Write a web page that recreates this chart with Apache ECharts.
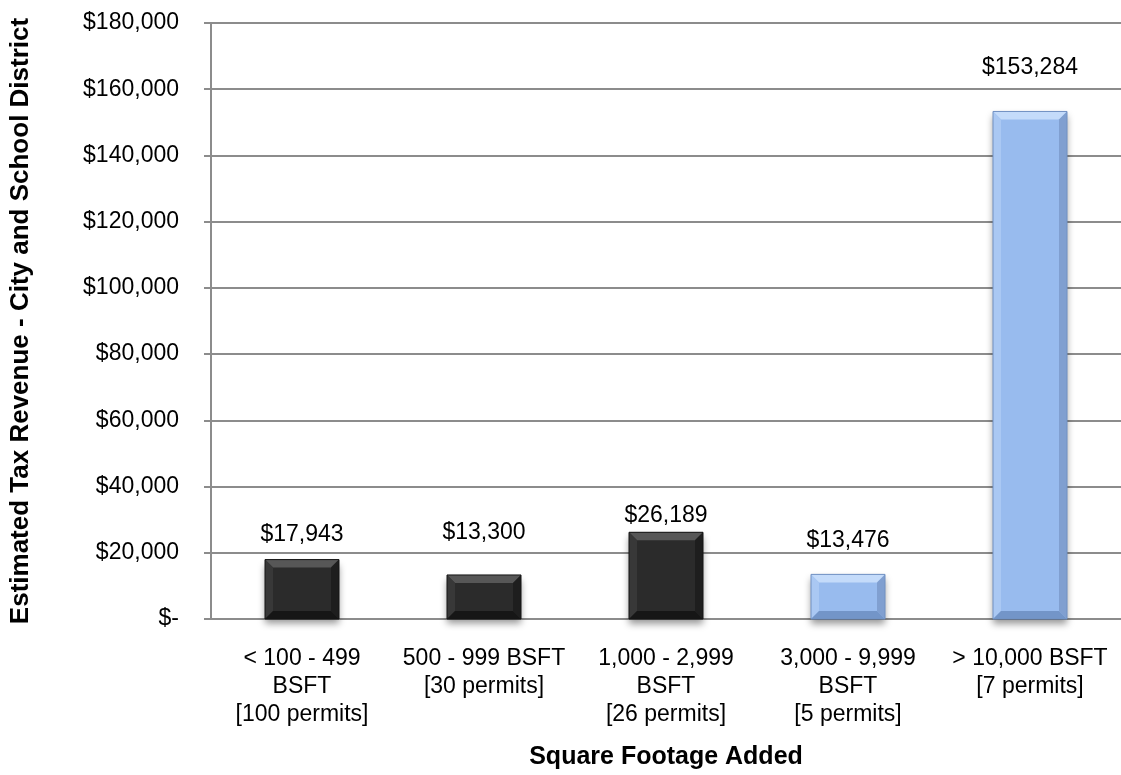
<!DOCTYPE html>
<html>
<head>
<meta charset="utf-8">
<script src="https://cdn.jsdelivr.net/npm/echarts@6/dist/echarts.min.js"></script>
<style>
    html, body {margin: 0; padding: 0; background: #fff;}
    #chart {width: 1121px; height: 775px;}
</style>
</head>
<body>
<div id="chart"></div>
<script>
// 数据
var categories = [
    '< 100 - 499\nBSFT\n[100 permits]',
    '500 - 999 BSFT\n[30 permits]',
    '1,000 - 2,999\nBSFT\n[26 permits]',
    '3,000 - 9,999\nBSFT\n[5 permits]',
    '> 10,000 BSFT\n[7 permits]'
];
var revenue = [17943, 13300, 26189, 13476, 153284];
var yTicks = [0, 20000, 40000, 60000, 80000, 100000, 120000, 140000, 160000, 180000];

// 标签离柱顶的距离 (Excel里是手动摆放的)
var labelRise = [25, 42, 17, 34, 44];

var dark = {face: '#2b2b2b', top: '#575757', left: '#383838', right: '#1e1e1e', bottom: '#161616', line: '#151515'};
var blue = {face: '#98bbee', top: '#c4dbfa', left: '#aac8f3', right: '#809fd0', bottom: '#7395c8', line: '#7090c2'};

function money(v) {
    if (v === 0) return '$-';
    return '$' + v.toLocaleString('en-US');
}

/*
* 画一个带斜面的柱子
* */
function renderBevelBar(params, api) {
    var i = params.dataIndex;
    var v = api.value(1);
    var topPt = api.coord([i, v]);
    var basePt = api.coord([i, 0]);
    var w = 74;
    var x0 = topPt[0] - w / 2, x1 = topPt[0] + w / 2;
    var y0 = topPt[1], y1 = basePt[1];
    var b = Math.min(8, (y1 - y0) / 3);
    var c = i < 3 ? dark : blue;

    return {
        type: 'group',
        children: [
            {
                type: 'rect',
                shape: {x: x0, y: y0, width: w, height: y1 - y0},
                style: {fill: c.face, shadowBlur: 7, shadowOffsetY: 5, shadowColor: 'rgba(0,0,0,0.4)'}
            },
            {type: 'polygon', shape: {points: [[x0, y0], [x1, y0], [x1 - b, y0 + b], [x0 + b, y0 + b]]}, style: {fill: c.top}},
            {type: 'polygon', shape: {points: [[x0, y0], [x0 + b, y0 + b], [x0 + b, y1 - b], [x0, y1]]}, style: {fill: c.left}},
            {type: 'polygon', shape: {points: [[x1, y0], [x1, y1], [x1 - b, y1 - b], [x1 - b, y0 + b]]}, style: {fill: c.right}},
            {type: 'polygon', shape: {points: [[x0, y1], [x0 + b, y1 - b], [x1 - b, y1 - b], [x1, y1]]}, style: {fill: c.bottom}},
            {
                type: 'rect',
                shape: {x: x0, y: y0, width: w, height: y1 - y0},
                style: {fill: null, stroke: c.line, lineWidth: 1}
            },
            {
                type: 'text',
                style: {
                    text: money(v),
                    x: topPt[0],
                    y: y0 - labelRise[i],
                    align: 'center',
                    verticalAlign: 'middle',
                    fill: '#000',
                    font: '23px "Liberation Sans", Arial, sans-serif'
                }
            }
        ]
    };
}

var chart = echarts.init(document.getElementById('chart'));

var option = {
    backgroundColor: '#fff',
    animation: false,
    textStyle: {fontFamily: '"Liberation Sans", Arial, sans-serif'},
    grid: {
        left: 207,
        top: 23,
        width: 916,
        height: 599,
        containLabel: false
    },
    xAxis: {
        type: 'category',
        data: categories,
        name: 'Square Footage Added',
        nameLocation: 'middle',
        nameGap: 126,
        nameTextStyle: {fontSize: 25, fontWeight: 'bold', color: '#000'},
        axisLine: {lineStyle: {color: '#8c8c8c', width: 2}},
        axisTick: {length: 7, lineStyle: {color: '#8c8c8c', width: 2}},
        axisLabel: {
            interval: 0,
            margin: 26,
            fontSize: 23,
            lineHeight: 28,
            color: '#000'
        }
    },
    yAxis: {
        type: 'value',
        min: yTicks[0],
        max: yTicks[yTicks.length - 1],
        interval: yTicks[1] - yTicks[0],
        name: 'Estimated Tax Revenue - City and School District',
        nameLocation: 'middle',
        nameGap: 177,
        nameTextStyle: {fontSize: 26, fontWeight: 'bold', color: '#000'},
        axisLine: {show: true, lineStyle: {color: '#8c8c8c', width: 2}},
        axisTick: {show: true, length: 7, lineStyle: {color: '#8c8c8c', width: 2}},
        axisLabel: {
            margin: 32,
            fontSize: 23,
            color: '#000',
            formatter: money
        },
        splitLine: {lineStyle: {color: '#8c8c8c', width: 2}}
    },
    series: [
        {
            type: 'custom',
            renderItem: renderBevelBar,
            encode: {x: 0, y: 1},
            data: revenue.map(function (v, i) {
                return [i, v];
            })
        }
    ]
};
chart.setOption(option);
</script>
</body>
</html>
